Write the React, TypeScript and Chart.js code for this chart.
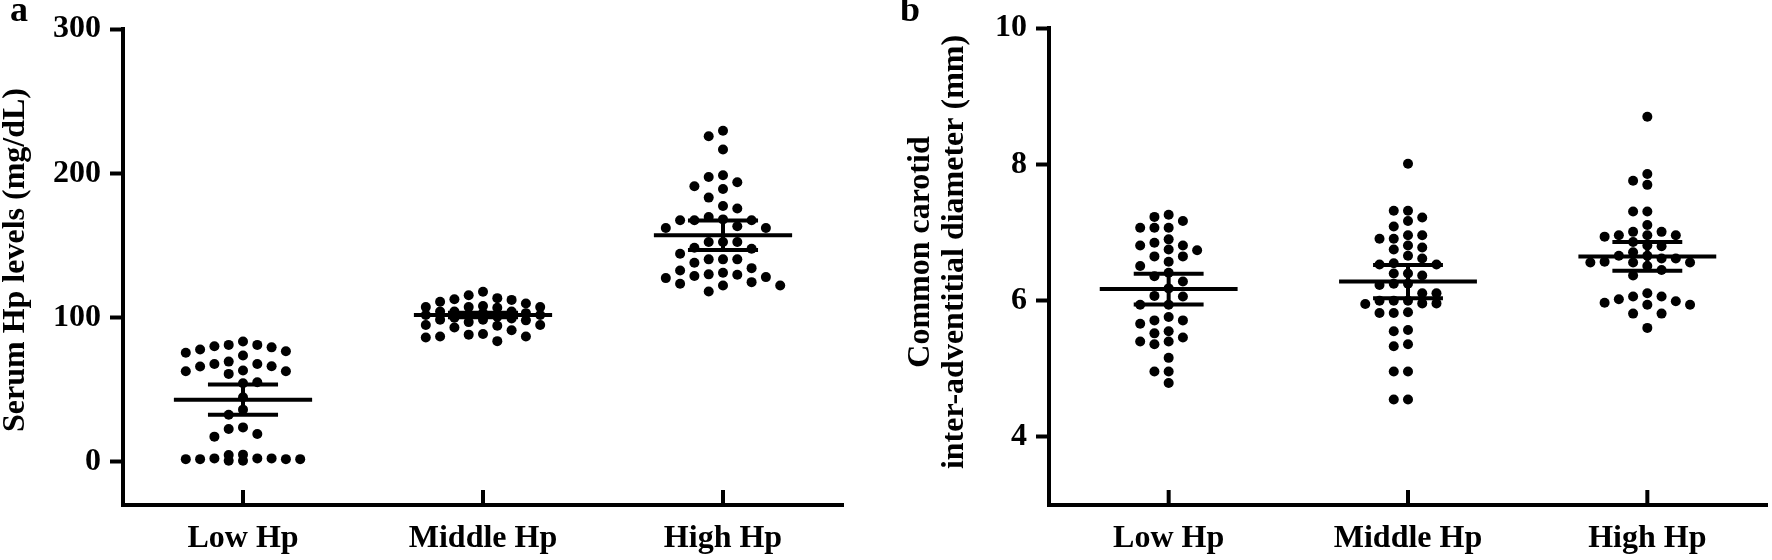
import React, { useEffect, useRef } from "react";
import { Chart, registerables } from "chart.js";

Chart.register(...registerables);

const FONT = "'Liberation Serif', 'Times New Roman', Times, serif";

const categories = ["Low Hp", "Middle Hp", "High Hp"];

// Panel a: Serum Hp levels (mg/dL)
const hpLow = [81, 79.3, 76.6, 73.6, 83.3, 75.5, 77.8, 80.1, 81, 69.4, 67.8, 66, 62.7, 60.9, 62.7, 63.2, 66.2, 67.8, 54.4, 55.1, 44.7, 36.1, 32.6, 23.8, 19.2, 17.4, 22.7, 2.3, 1.8, 1.8, 2.3, 4.9, 0.7, 4.6, 0.7, 1.8, 1.8, 2.3];
const hpMiddle = [117.9, 115.4, 110.9, 109.7, 112.7, 112.2, 113.4, 107.2, 107.2, 107.2, 106.7, 108, 100.5, 99.8, 98.5, 101.7, 104.2, 104.2, 98.5, 104.2, 101.7, 103, 98, 99.3, 96.8, 103, 101.7, 91.1, 88.1, 86.8, 83.6, 86.1, 86.8, 88.6, 93, 94.8, 94.3, 94.8];
const hpHigh = [225.7, 229.4, 216.4, 198.6, 193.8, 189.1, 191, 197.4, 183.1, 177.3, 175.5, 168, 167.4, 167.4, 167.4, 169.7, 162, 162, 163.2, 152.3, 152.3, 152.3, 147.7, 144.2, 148.4, 140.3, 140.3, 140.3, 138, 134.2, 128, 131, 124.5, 129.6, 122.2, 128.7, 118, 129.9, 122.2, 132.6, 123.4, 127.3];
const hpMeans = [43, 101.7, 157];
const hpErrors = [10.5, 1.5, 10.2];
const hpTicks = [0, 100, 200, 300];
const hpRange = [-30, 300];

// Panel b: Common carotid inter-adventitial diameter (mm)
const cdLow = [6.81, 6.74, 7.23, 7.07, 7.17, 7.26, 7.07, 7.07, 6.9, 6.75, 6.81, 6.85, 6.65, 6.57, 6.65, 6.51, 6.41, 6.28, 6.36, 6.18, 6.07, 6.06, 5.94, 5.94, 5.71, 5.71, 5.66, 5.76, 5.46, 5.52, 5.55, 5.36, 5.4, 5.4, 5.16, 4.96, 4.96, 4.79];
const cdMiddle = [8.01, 7.32, 7.32, 7.09, 7.22, 7.17, 6.96, 6.91, 6.91, 6.96, 6.75, 6.78, 6.81, 6.66, 6.62, 6.53, 6.53, 6.55, 6.4, 6.37, 6.4, 6.25, 6.23, 6.25, 6.11, 6.11, 6.0, 6.0, 6.0, 5.96, 5.96, 5.95, 5.83, 5.82, 5.82, 5.57, 5.55, 5.36, 5.33, 4.96, 4.96, 4.55, 4.55];
const cdHigh = [8.7, 7.86, 7.76, 7.7, 7.31, 7.31, 7.11, 7.01, 6.96, 6.94, 6.96, 6.96, 7.01, 6.8, 6.81, 6.86, 6.66, 6.62, 6.56, 6.56, 6.57, 6.56, 6.62, 6.66, 6.71, 6.45, 6.37, 6.51, 6.11, 6.06, 5.99, 5.94, 5.94, 5.97, 6.02, 6.06, 5.81, 5.81, 5.6];
const cdMeans = [6.17, 6.28, 6.65];
const cdErrors = [0.225, 0.245, 0.21];
const cdTicks = [4, 6, 8, 10];
const cdRange = [3, 10];

// deterministic dot-plot layout: each point takes the nearest free column slot
function swarmSlots(values: number[], toPx: (v: number) => number, minGap: number, maxSlot: number): number[] {
  const order = values.map((_, i) => i).sort((a, b) => values[b] - values[a]);
  const slotOrder: number[] = [0];
  for (let k = 1; k <= maxSlot; k++) slotOrder.push(-k, k);
  const placed: Record<number, number[]> = {};
  const slots = new Array(values.length).fill(0);
  for (const i of order) {
    const py = toPx(values[i]);
    let chosen: number | null = null;
    let best = 0;
    let bestGap = -1;
    for (const s of slotOrder) {
      const arr = placed[s] || [];
      const gap = arr.length ? Math.min(...arr.map((p) => Math.abs(p - py))) : Infinity;
      if (gap >= minGap) {
        chosen = s;
        break;
      }
      if (gap > bestGap) {
        bestGap = gap;
        best = s;
      }
    }
    const s = chosen === null ? best : chosen;
    (placed[s] = placed[s] || []).push(py);
    slots[i] = s;
  }
  return slots;
}

type PanelSpec = {
  groups: number[][];
  means: number[];
  errors: number[];
  ticks: number[];
  range: number[];
  axisWidth: number;
  padTop: number;
  padRight: number;
  titleLines: string[];
  titleX: number;
  titleY: number;
  titleLineHeight: number;
  letter: string;
  letterX: number;
  minGap: number;
};

function makeChart(canvas: HTMLCanvasElement, spec: PanelSpec) {
  const overlay = {
    id: "overlay",
    afterDatasetsDraw(chart: any) {
      const { ctx, scales } = chart;
      const xs = scales.x;
      const ys = scales.y;
      ctx.save();
      ctx.strokeStyle = "#000";
      ctx.lineWidth = 4;
      ctx.lineCap = "butt";
      spec.means.forEach((m, i) => {
        const c = i + 0.5;
        const cx = xs.getPixelForValue(c);
        const ym = ys.getPixelForValue(m);
        const yu = ys.getPixelForValue(m + spec.errors[i]);
        const yl = ys.getPixelForValue(m - spec.errors[i]);
        ctx.beginPath();
        ctx.moveTo(xs.getPixelForValue(c - 0.288), ym);
        ctx.lineTo(xs.getPixelForValue(c + 0.288), ym);
        ctx.moveTo(xs.getPixelForValue(c - 0.146), yu);
        ctx.lineTo(xs.getPixelForValue(c + 0.146), yu);
        ctx.moveTo(xs.getPixelForValue(c - 0.146), yl);
        ctx.lineTo(xs.getPixelForValue(c + 0.146), yl);
        ctx.moveTo(cx, yu);
        ctx.lineTo(cx, yl);
        ctx.stroke();
        // inward category tick on the x axis
        ctx.beginPath();
        ctx.moveTo(cx, chart.chartArea.bottom);
        ctx.lineTo(cx, chart.chartArea.bottom - 15);
        ctx.stroke();
      });
      ctx.restore();
    },
    afterDraw(chart: any) {
      const { ctx } = chart;
      ctx.save();
      ctx.fillStyle = "#000";
      ctx.font = `bold 36px ${FONT}`;
      ctx.textAlign = "left";
      ctx.textBaseline = "alphabetic";
      ctx.fillText(spec.letter, spec.letterX, 21);
      ctx.font = `bold 32px ${FONT}`;
      ctx.translate(spec.titleX, spec.titleY);
      ctx.rotate(-Math.PI / 2);
      ctx.textAlign = "center";
      ctx.textBaseline = "middle";
      spec.titleLines.forEach((t, i) => {
        ctx.fillText(t, 0, i * spec.titleLineHeight);
      });
      ctx.restore();
    },
  };

  const chart = new Chart(canvas, {
    type: "scatter",
    data: {
      datasets: spec.groups.map(() => ({
        data: [] as { x: number; y: number }[],
        pointRadius: 5,
        pointHoverRadius: 5,
        backgroundColor: "#000",
        borderWidth: 0,
      })),
    },
    options: {
      responsive: false,
      animation: false,
      devicePixelRatio: 1,
      events: [],
      layout: { padding: { left: 0, top: spec.padTop, right: spec.padRight, bottom: 0 } },
      plugins: { legend: { display: false }, tooltip: { enabled: false } },
      scales: {
        x: {
          type: "linear",
          min: 0,
          max: 3,
          afterBuildTicks: (s: any) => {
            s.ticks = categories.map((_, i) => ({ value: i + 0.5 }));
          },
          afterFit: (s: any) => {
            s.height = 55;
          },
          grid: { drawOnChartArea: false, drawTicks: false },
          border: { display: true, width: 4, color: "#000" },
          ticks: {
            padding: 15,
            color: "#000",
            autoSkip: false,
            maxRotation: 0,
            font: { family: FONT, size: 32, weight: "bold" },
            callback: (v: any) => categories[Math.floor(Number(v))],
          },
        },
        y: {
          type: "linear",
          min: spec.range[0],
          max: spec.range[1],
          afterBuildTicks: (s: any) => {
            s.ticks = spec.ticks.map((v) => ({ value: v }));
          },
          afterFit: (s: any) => {
            s.width = spec.axisWidth;
          },
          grid: { drawOnChartArea: false, drawTicks: true, tickLength: 13, tickWidth: 4, tickColor: "#000" },
          border: { display: true, width: 4, color: "#000" },
          ticks: {
            padding: 9,
            color: "#000",
            font: { family: FONT, size: 32, weight: "bold" },
          },
        },
      },
    },
    plugins: [overlay],
  } as any);

  const xs: any = chart.scales.x;
  const ys: any = chart.scales.y;
  const slotUnits = 14.3 / (xs.getPixelForValue(1) - xs.getPixelForValue(0));
  spec.groups.forEach((vals, gi) => {
    const slots = swarmSlots(vals, (v) => ys.getPixelForValue(v), spec.minGap, 4);
    (chart.data.datasets[gi] as any).data = vals.map((v, i) => ({ x: gi + 0.5 + slots[i] * slotUnits, y: v }));
  });
  chart.update("none");
  return chart;
}

export default function App() {
  const refA = useRef<HTMLCanvasElement>(null);
  const refB = useRef<HTMLCanvasElement>(null);

  useEffect(() => {
    const a = makeChart(refA.current!, {
      groups: [hpLow, hpMiddle, hpHigh],
      means: hpMeans,
      errors: hpErrors,
      ticks: hpTicks,
      range: hpRange,
      axisWidth: 123,
      padTop: 29,
      padRight: 43,
      titleLines: ["Serum Hp levels (mg/dL)"],
      titleX: 16,
      titleY: 260,
      titleLineHeight: 34,
      letter: "a",
      letterX: 10,
      minGap: 12,
    });
    const b = makeChart(refB.current!, {
      groups: [cdLow, cdMiddle, cdHigh],
      means: cdMeans,
      errors: cdErrors,
      ticks: cdTicks,
      range: cdRange,
      axisWidth: 163,
      padTop: 28,
      padRight: 2,
      titleLines: ["Common carotid", "inter-adventitial diameter (mm)"],
      titleX: 35,
      titleY: 252,
      titleLineHeight: 34,
      letter: "b",
      letterX: 14,
      minGap: 10,
    });
    return () => {
      a.destroy();
      b.destroy();
    };
  }, []);

  return (
    <div style={{ position: "absolute", left: 0, top: 0, width: 1772, height: 560, background: "#fff" }}>
      <canvas ref={refA} width={886} height={560} style={{ position: "absolute", left: 0, top: 0 }} />
      <canvas ref={refB} width={886} height={560} style={{ position: "absolute", left: 886, top: 0 }} />
    </div>
  );
}
